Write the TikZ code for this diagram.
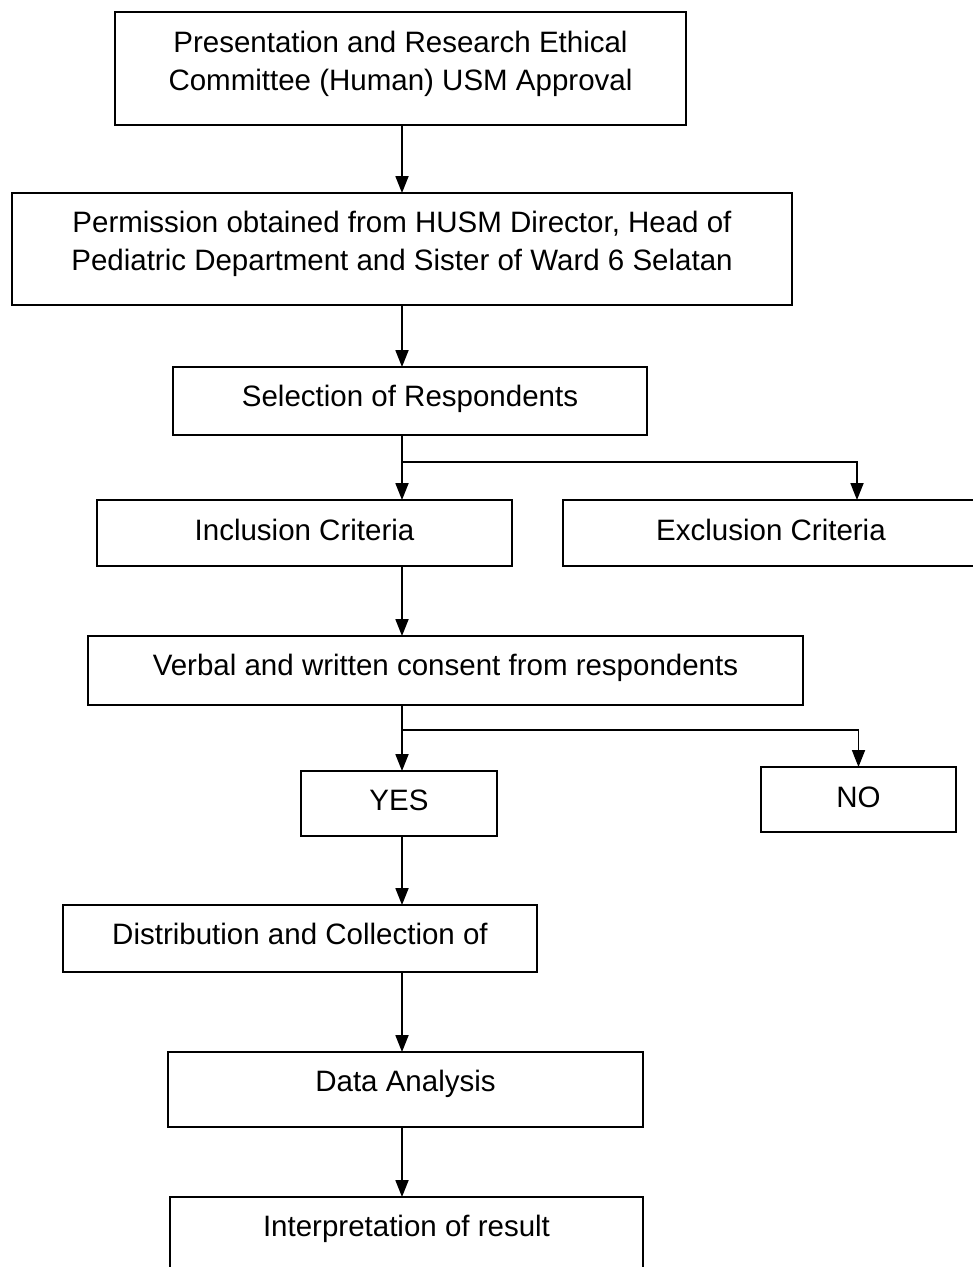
\documentclass[tikz,border=0pt]{standalone}
\usepackage{fontspec}
\setmainfont{Liberation Sans}
\usetikzlibrary{arrows.meta, positioning}

\tikzset{
  stage/.style 2 args={draw, line width=1.8pt, black, minimum width=#1, minimum height=#2,
    inner sep=0pt, outer sep=0pt, align=center,
    font=\fontsize{29.5}{38}\selectfont},
  flow/.style={line width=1.8pt, -{Triangle[length=17pt,width=13pt]}},
  link/.style={line width=1.8pt}
}

\begin{document}
\begin{tikzpicture}[x=1pt, y=-1pt]
\clip (0,0) rectangle (973,1267);
\fill [white] (0,0) rectangle (973,1267);

\node [stage={571pt}{113pt}, text depth=16pt] (approval) at (400.5,68.5)  {Presentation and Research Ethical\\Committee (Human) USM Approval};
\node [stage={780pt}{112pt}, text depth=16pt] (permit)   at (402,249)     {Permission obtained from HUSM Director, Head of\\Pediatric Department and Sister of Ward 6 Selatan};
\node [stage={474pt}{68pt}, text depth=10pt]  (select)   at (410,401)     {Selection of Respondents};

\node [stage={415pt}{66pt}, text depth=6pt]   (incl)     at (304.5,533)   {Inclusion Criteria};
\node [stage={416pt}{66pt}, text depth=6pt]   (excl)     at (771,533)     {Exclusion Criteria};

\node [stage={715pt}{69pt}, text depth=12pt]  (consent)  at (445.5,670.5) {Verbal and written consent from respondents};

\node [stage={196pt}{65pt}, text depth=6pt]   (yes)      at (399,803.5)   {YES};
\node [stage={195pt}{65pt}, text depth=4pt]   (no)       at (858.5,799.5) {NO};

\node [stage={474pt}{67pt}, text depth=10pt]  (distrib)  at (300,938.5)   {Distribution and Collection of};
\node [stage={475pt}{75pt}, text depth=18pt]  (analysis) at (405.5,1089.5) {Data Analysis};
\node [stage={473pt}{78pt}, text depth=20pt]  (interp)   at (406.5,1236)  {Interpretation of result};

% main line and branch points
\coordinate (trunk)   at (402,0);
\coordinate (forkSel) at (402,462);
\coordinate (forkCon) at (402,730);
\coordinate (exclIn)  at (857,0 |- excl.north);

\draw [flow] (trunk |- approval.south) -- (trunk |- permit.north);
\draw [flow] (trunk |- permit.south)   -- (trunk |- select.north);
\draw [flow] (trunk |- select.south)   -- (trunk |- incl.north);
\draw [flow] (forkSel) -| (exclIn);
\draw [flow] (trunk |- incl.south)     -- (trunk |- consent.north);
\draw [flow] (trunk |- consent.south)  -- (trunk |- yes.north);
\draw [flow] (forkCon) -| (no.north);
\draw [flow] (trunk |- yes.south)      -- (trunk |- distrib.north);
\draw [flow] (trunk |- distrib.south)  -- (trunk |- analysis.north);
\draw [flow] (trunk |- analysis.south) -- (trunk |- interp.north);

\end{tikzpicture}
\end{document}
